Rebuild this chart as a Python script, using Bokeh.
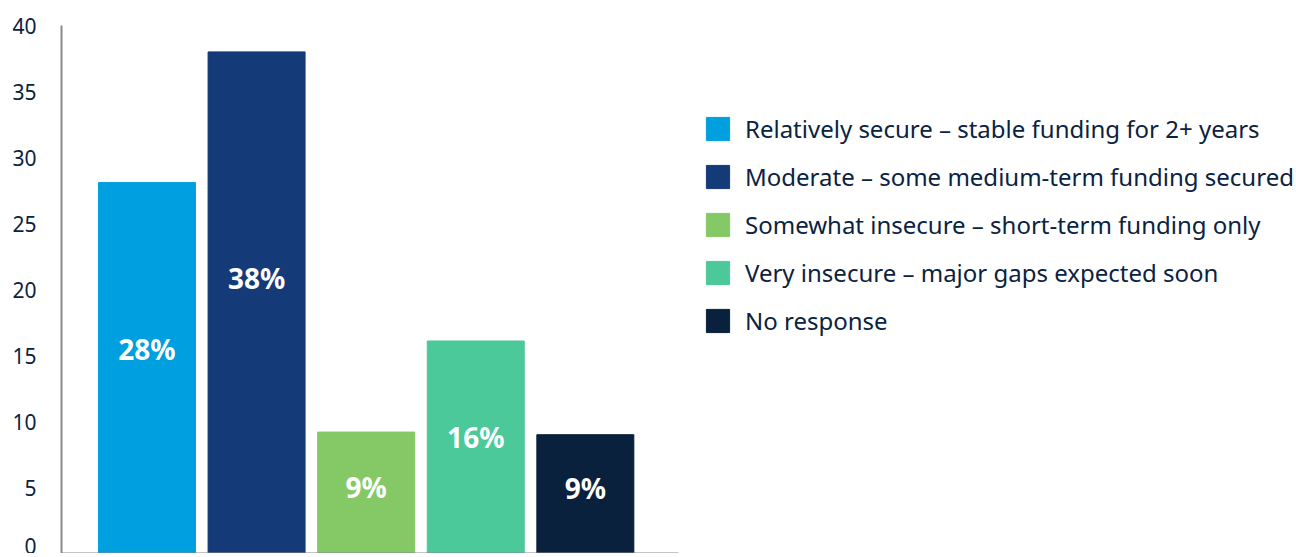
from bokeh.plotting import figure
from bokeh.models import ColumnDataSource, Legend, LegendItem, FixedTicker, Range1d
from bokeh.core.properties import value
from bokeh.embed import file_html
from bokeh.resources import INLINE

categories = [
    "Relatively secure – stable funding for 2+ years",
    "Moderate – some medium-term funding secured",
    "Somewhat insecure – short-term funding only",
    "Very insecure – major gaps expected soon",
    "No response",
]
values = [28.1, 38.0, 9.2, 16.1, 9.0]
labels = ["28%", "38%", "9%", "16%", "9%"]
colors = ["#009FDF", "#143A78", "#85C966", "#4BC99A", "#0A213D"]
y_ticks = [0, 5, 10, 15, 20, 25, 30, 35, 40]

TEXT = "#0B2240"
FONT = "Noto Sans"

xs = list(range(len(categories)))
src = ColumnDataSource(dict(
    x=xs, top=values, color=colors, label=labels,
    ly=[v * 0.55 for v in values],
))

p = figure(
    frame_width=617, frame_height=528,
    x_range=Range1d(-0.78, 4.85), y_range=Range1d(0, 40),
    output_backend="svg", toolbar_location=None,
    min_border_left=61, min_border_top=25, min_border_bottom=0, min_border_right=0,
)
p.outline_line_color = None
p.xgrid.visible = False
p.ygrid.visible = False

r = p.vbar(x="x", top="top", width=0.885, color="color", source=src)
p.text(x="x", y="ly", text="label", source=src, text_color="white",
       text_font=value(FONT), text_font_style="bold", text_font_size="28px",
       text_align="center", text_baseline="middle")

# y axis
p.yaxis.ticker = FixedTicker(ticks=y_ticks)
p.yaxis.axis_line_color = "#8A8A8A"
p.yaxis.axis_line_width = 2
p.yaxis.major_tick_line_color = None
p.yaxis.minor_tick_line_color = None
p.yaxis.major_label_text_font = FONT
p.yaxis.major_label_text_font_size = "21px"
p.yaxis.major_label_text_color = TEXT
p.yaxis.major_label_standoff = 19

# x axis: line only
p.xaxis.ticker = FixedTicker(ticks=[])
p.xaxis.axis_line_color = "#8A8A8A"
p.xaxis.axis_line_width = 2
p.xaxis.major_tick_line_color = None
p.xaxis.minor_tick_line_color = None
p.xaxis.major_tick_out = 0
p.xaxis.major_tick_in = 0
p.xaxis.major_label_standoff = 0

items = [LegendItem(label=c, renderers=[r], index=i) for i, c in enumerate(categories)]
legend = Legend(items=items, location=(25, 216))
legend.glyph_width = 29
legend.glyph_height = 29
legend.label_height = 29
legend.spacing = 15
legend.label_standoff = 13
legend.padding = 0
legend.margin = 0
legend.border_line_color = None
legend.background_fill_alpha = 0
legend.label_text_font = FONT
legend.label_text_font_size = "24px"
legend.label_text_color = TEXT
p.add_layout(legend, "right")

open("out.html", "w").write(file_html(p, INLINE))
